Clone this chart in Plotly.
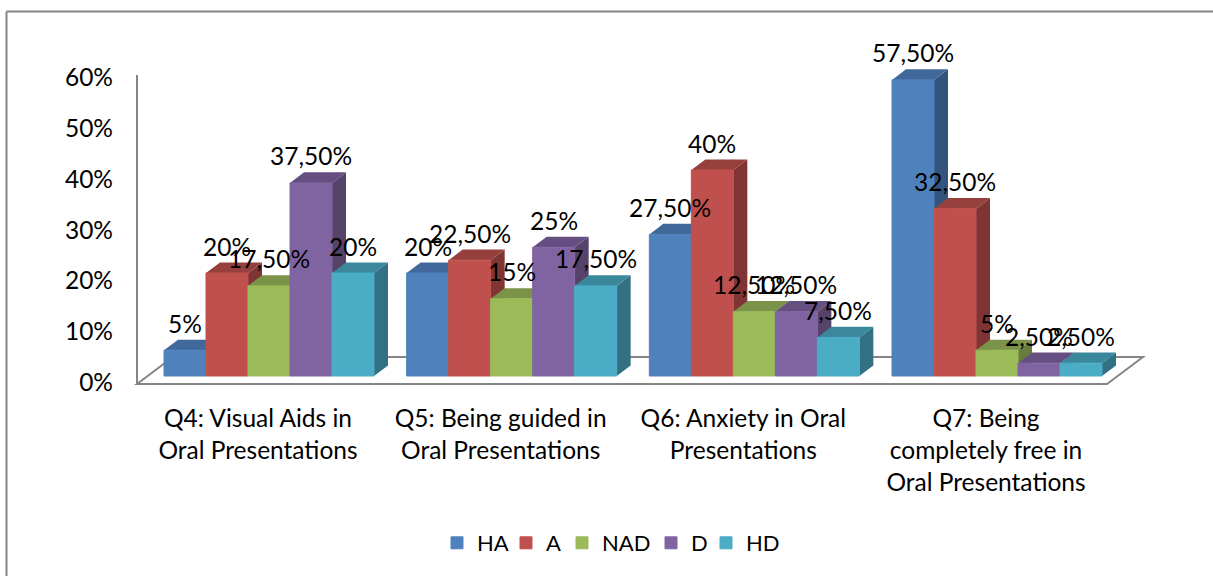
import plotly.graph_objects as go

categories = ["Q4: Visual Aids in<br>Oral Presentations",
              "Q5: Being guided in<br>Oral Presentations",
              "Q6: Anxiety in Oral<br>Presentations",
              "Q7: Being<br>completely free in<br>Oral Presentations"]
series_names = ["HA", "A", "NAD", "D", "HD"]
HA = [5, 20, 27.5, 57.5]
A = [20, 22.5, 40, 32.5]
NAD = [17.5, 15, 12.5, 5]
D = [37.5, 25, 12.5, 2.5]
HD = [20, 17.5, 7.5, 2.5]
y_ticks = [0, 10, 20, 30, 40, 50, 60]

front_colors = ["#4F81BD", "#C0504D", "#9BBB59", "#8064A2", "#4BACC6"]
top_colors = ["#41689A", "#96403D", "#7A9348", "#654F81", "#3B879C"]
side_colors = ["#34547E", "#7F3534", "#687C3C", "#554369", "#327183"]
GREY = "#868686"
FONT = "Lato, Carlito, Calibri, sans-serif"
FS = 24.5
LEGEND_FS = 22
LEGEND_TEXT_PX = [478, 547, 603, 692, 747]  # where each legend label starts

W, H = 1213, 576
PITCH = 242.67      # px per category
BAR = 42.0          # px per bar
X0 = 269.0          # px of the first group's centre
Y0 = 376.0          # px of value 0 at the bars' front
SCALE = 5.15        # px per percentage point
DX, DY = 14.0, 10.6 # bar depth in px


def xv(px):
    return (px - X0) / PITCH


def yv(py):
    return (Y0 - py) / SCALE


x_range = [xv(0), xv(W)]
y_range = [yv(H), yv(0)]
bw = BAR / PITCH
ddx = DX / PITCH
ddy = DY / SCALE
all_series = [HA, A, NAD, D, HD]

fig = go.Figure()

# depth faces, painted left to right
for g in range(len(categories)):
    for s, vals in enumerate(all_series):
        v = vals[g]
        left = g + (s - 2.5) * bw
        right = left + bw
        fig.add_trace(go.Scatter(
            x=[right, right + ddx, right + ddx, right, right],
            y=[0, ddy, v + ddy, v, 0],
            fill="toself", fillcolor=side_colors[s], mode="lines",
            line=dict(width=0), hoverinfo="skip", showlegend=False))
        fig.add_trace(go.Scatter(
            x=[left, right, right + ddx, left + ddx, left],
            y=[v, v, v + ddy, v + ddy, v],
            fill="toself", fillcolor=top_colors[s], mode="lines",
            line=dict(width=0), hoverinfo="skip", showlegend=False))

# front faces, on an overlaid subplot so they stay above the depth faces
for s, vals in enumerate(all_series):
    fig.add_trace(go.Bar(
        x=list(range(len(categories))), y=vals, name=series_names[s],
        marker=dict(color=front_colors[s], line=dict(width=1, color=front_colors[s])),
        xaxis="x2", yaxis="y2", cliponaxis=False,
        legend="legend" if s == 0 else f"legend{s + 1}"))


def label(v):
    return f"{v:g}%" if float(v).is_integer() else f"{v:.2f}%".replace(".", ",")


annotations = []
for g in range(len(categories)):
    for s, vals in enumerate(all_series):
        annotations.append(dict(
            x=g + (s - 2) * bw, y=vals[g], xref="x", yref="y", yshift=27,
            text=label(vals[g]), showarrow=False, xanchor="center", yanchor="middle",
            font=dict(family=FONT, size=FS, color="#000000")))

line = dict(color=GREY, width=2)
shapes = [
    # floor outline
    dict(type="path", xref="x", yref="y", layer="below", line=line,
         path=f"M {xv(137)} {yv(384)} L {xv(1107)} {yv(384)} L {xv(1143)} {yv(357)} "
              f"L {xv(173)} {yv(357)} Z"),
    # left wall edge
    dict(type="line", xref="x", yref="y", layer="below", line=line,
         x0=xv(137), x1=xv(137), y0=yv(384), y1=yv(75)),
    # chart frame
    dict(type="line", xref="paper", yref="paper", line=line,
         x0=6.5 / W, x1=1, y0=1 - 11.5 / H, y1=1 - 11.5 / H),
    dict(type="line", xref="paper", yref="paper", line=line,
         x0=6.5 / W, x1=6.5 / W, y0=0, y1=1 - 11.5 / H),
]

legends = {}
for s, px in enumerate(LEGEND_TEXT_PX):
    legends["legend" if s == 0 else f"legend{s + 1}"] = dict(
        orientation="h", x=(px - 41) / W, xanchor="left", y=1 - 543 / H, yanchor="middle",
        font=dict(family=FONT, size=LEGEND_FS), bgcolor="rgba(0,0,0,0)")

fig.update_layout(
    width=W, height=H, margin=dict(l=0, r=0, t=0, b=0),
    paper_bgcolor="white", plot_bgcolor="white",
    barmode="group", bargap=1 - 5 * bw, bargroupgap=0,
    font=dict(family=FONT, size=FS, color="#000000"),
    shapes=shapes, annotations=annotations,
    xaxis=dict(range=x_range, domain=[0, 1], anchor="free", position=1 - 401.5 / H,
               showgrid=False, zeroline=False, showline=False, ticks="",
               tickmode="array", tickvals=[i - 11 / PITCH for i in range(len(categories))],
               ticktext=categories, tickangle=0, tickfont=dict(family=FONT, size=FS)),
    yaxis=dict(range=y_range, domain=[0, 1], anchor="free", position=137 / W,
               showgrid=False, zeroline=False, showline=False, ticks="",
               tickmode="array", tickvals=[yv(382.5 - 5.08 * t) for t in y_ticks],
               ticktext=[f"{t}%" for t in y_ticks], ticklabelstandoff=24,
               tickfont=dict(family=FONT, size=FS)),
    xaxis2=dict(range=x_range, overlaying="x", visible=False),
    yaxis2=dict(range=y_range, overlaying="y", visible=False),
    **legends,
)

fig.write_html("out.html", config={"displayModeBar": False},
               post_script="document.body.style.margin='0';")
